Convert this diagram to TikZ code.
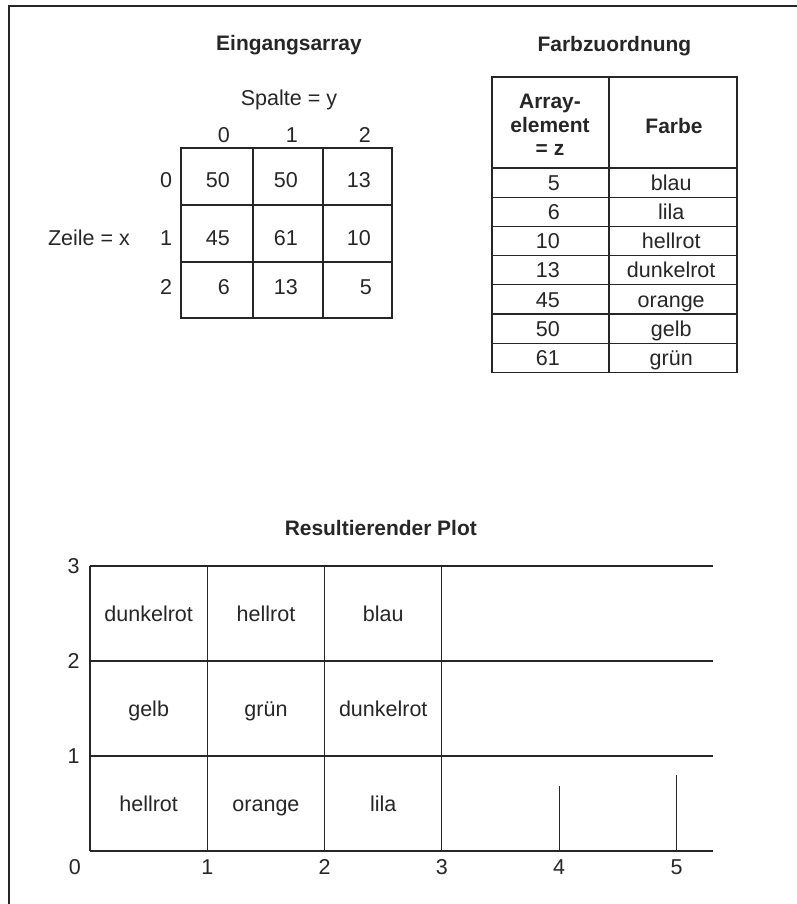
\documentclass[tikz,border=0pt]{standalone}
\usepackage{fontspec}
\setmainfont{Liberation Sans}
\definecolor{ink}{HTML}{262626}

\begin{document}
\begin{tikzpicture}[font=\fontsize{15.3}{17}\selectfont,
  txt/.style={inner sep=0pt,text height=10.9pt,text depth=0pt,text=ink},
  ttl/.style={txt,font=\fontsize{14.9}{16.8}\selectfont\bfseries},
  rnum/.style={txt,anchor=east},
  cellline/.style={draw=ink,line width=0.75pt},
  axisline/.style={draw=ink,line width=1.3pt}]
\useasboundingbox (0,0) rectangle (19.925,-22.6);
% frame (top and left only)
\draw[ink,line width=1.4pt] (0.225,-22.6) -- (0.225,-0.15) -- (19.925,-0.15);

% input array
\begin{scope}
  \node[ttl] (eintitle) at (7.225,-1.083) {Eingangsarray};
  \node[txt] (spalte) at (7.225,-2.44) {Spalte = y};
  \node[txt] (zeile) at (2.225,-5.94) {Zeile = x};
  \draw[cellline] (4.525,-3.7) rectangle (9.8,-7.95);
  \draw[cellline] (6.325,-3.7) -- (6.325,-7.95) (8.075,-3.7) -- (8.075,-7.95)
    (4.525,-5.125) -- (9.8,-5.125) (4.525,-6.55) -- (9.8,-6.55);
  \node[rnum] (c0) at (5.75,-3.375) {0};
  \node[rnum] (c1) at (7.45,-3.375) {1};
  \node[rnum] (c2) at (9.275,-3.375) {2};
  \node[txt] (r0) at (4.15,-4.5) {0};
  \node[txt] (r1) at (4.15,-5.94) {1};
  \node[txt] (r2) at (4.15,-7.17) {2};
  \node[rnum] (a00) at (5.75,-4.5) {50};
  \node[rnum] (a01) at (7.45,-4.5) {50};
  \node[rnum] (a02) at (9.275,-4.5) {13};
  \node[rnum] (a10) at (5.75,-5.94) {45};
  \node[rnum] (a11) at (7.45,-5.94) {61};
  \node[rnum] (a12) at (9.275,-5.94) {10};
  \node[rnum] (a20) at (5.75,-7.17) {6};
  \node[rnum] (a21) at (7.45,-7.17) {13};
  \node[rnum] (a22) at (9.3,-7.17) {5};
\end{scope}

% colour table
\begin{scope}
  \node[ttl] (farbtitle) at (15.36,-1.1) {Farbzuordnung};
  \draw[cellline] (12.3,-1.925) rectangle (18.425,-9.31);
  \draw[cellline] (15.225,-1.925) -- (15.225,-9.31)
    (12.3,-4.2) -- (18.425,-4.2) (12.3,-4.93) -- (18.425,-4.93)
    (12.3,-5.66) -- (18.425,-5.66) (12.3,-6.39) -- (18.425,-6.39)
    (12.3,-7.12) -- (18.425,-7.12) (12.3,-7.85) -- (18.425,-7.85)
    (12.3,-8.58) -- (18.425,-8.58);
  \node[font=\fontsize{14.9}{16.8}\selectfont\bfseries,text=ink,align=center,inner sep=0pt]
    (zhead) at (13.75,-3.125) {Array-\\element\\= z};
  \node[ttl] (fhead) at (16.85,-3.15) {Farbe};
  \node[rnum] (z5)  at (14.0,-4.565) {5};  \node[txt] (f5)  at (16.78,-4.565) {blau};
  \node[rnum] (z6)  at (14.0,-5.295) {6};  \node[txt] (f6)  at (16.78,-5.295) {lila};
  \node[rnum] (z10) at (14.0,-6.025) {10}; \node[txt] (f10) at (16.78,-6.025) {hellrot};
  \node[rnum] (z13) at (14.0,-6.755) {13}; \node[txt] (f13) at (16.78,-6.755) {dunkelrot};
  \node[rnum] (z45) at (14.0,-7.485) {45}; \node[txt] (f45) at (16.78,-7.485) {orange};
  \node[rnum] (z50) at (14.0,-8.215) {50}; \node[txt] (f50) at (16.78,-8.215) {gelb};
  \node[rnum] (z61) at (14.0,-8.945) {61}; \node[txt] (f61) at (16.78,-8.945) {grün};
\end{scope}

% resulting plot
\node[ttl] (plottitle) at (9.52,-13.2) {Resultierender Plot};
\begin{scope}[shift={(2.25,-21.275)},x=2.9325cm,y=2.375cm]
  \draw[axisline] (0,0) -- (5.31,0) (0,1) -- (5.31,1) (0,2) -- (5.31,2) (0,3) -- (5.31,3);
  \draw[cellline] (0,0) -- (0,3) (1,0) -- (1,3) (2,0) -- (2,3) (3,0) -- (3,3)
    (4,0) -- (4,0.68) (5,0) -- (5,0.8);
  \node[txt] (x0) at (-0.13,-0.17) {0};
  \node[txt] (x1) at (1,-0.17) {1};
  \node[txt] (x2) at (2,-0.17) {2};
  \node[txt] (x3) at (3,-0.17) {3};
  \node[txt] (x4) at (4,-0.17) {4};
  \node[txt] (x5) at (5,-0.17) {5};
  \node[txt] (y1) at (-0.14,1) {1};
  \node[txt] (y2) at (-0.14,2) {2};
  \node[txt] (y3) at (-0.14,3) {3};
  \node[txt] (p00) at (0.5,0.5) {hellrot};
  \node[txt] (p10) at (1.5,0.5) {orange};
  \node[txt] (p20) at (2.5,0.5) {lila};
  \node[txt] (p01) at (0.5,1.5) {gelb};
  \node[txt] (p11) at (1.5,1.5) {grün};
  \node[txt] (p21) at (2.5,1.5) {dunkelrot};
  \node[txt] (p02) at (0.5,2.5) {dunkelrot};
  \node[txt] (p12) at (1.5,2.5) {hellrot};
  \node[txt] (p22) at (2.5,2.5) {blau};
\end{scope}
\end{tikzpicture}
\end{document}
